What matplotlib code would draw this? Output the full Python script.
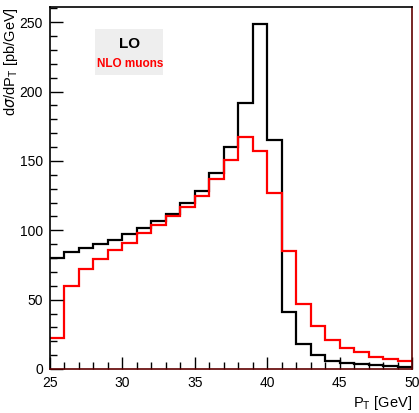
import numpy as np
import matplotlib
matplotlib.use("Agg")
import matplotlib.pyplot as plt
from matplotlib.ticker import MultipleLocator

plt.rcParams['font.family'] = ['Liberation Sans', 'DejaVu Sans']

# ビンの端 (GeV)
edges = np.arange(25, 51, 1)

# LO (黒)
lo = [80, 84, 87, 90, 93, 97, 102, 107, 112, 120, 128, 141, 160, 192, 249,
      165, 41, 18, 10, 6, 4.3, 3.3, 2.6, 2.1, 1.7]
# NLO muons (赤)
nlo = [22, 60, 72, 79, 86, 91, 98, 104, 110, 117, 125, 137, 151, 167, 157,
       127, 85, 47, 31, 21, 15.5, 12, 9, 7.2, 5.8]

W, H = 419, 413
fig = plt.figure(figsize=(W / 100, H / 100), dpi=100)
ax = fig.add_axes([50 / W, 1 - 369 / H, 362 / W, 362 / H])

ax.stairs(lo, edges, color='black', linewidth=1.6, baseline=None)
ax.stairs(nlo, edges, color='red', linewidth=1.6, baseline=None)

ax.set_xlim(25, 50)
ax.set_ylim(0, 261)

ax.xaxis.set_major_locator(MultipleLocator(5))
ax.xaxis.set_minor_locator(MultipleLocator(1))
ax.yaxis.set_major_locator(MultipleLocator(50))
ax.yaxis.set_minor_locator(MultipleLocator(10))
ax.tick_params(which='both', direction='in', top=False, right=False, labelsize=10)
ax.tick_params(which='major', length=9, width=1)
ax.tick_params(which='minor', length=5, width=1)
ax.tick_params(axis='x', pad=5)
ax.tick_params(axis='y', pad=5)

for s in ax.spines.values():
    s.set_linewidth(1.2)
ax.spines['right'].set_color('#600000')
ax.spines['bottom'].set_color('#600000')

ax.set_xlabel(r'P$_\mathregular{T}$ [GeV]', fontsize=10.5)
ax.xaxis.set_label_coords(1.0, -0.07)
ax.xaxis.label.set_ha('right')
ax.xaxis.label.set_va('top')
ax.set_ylabel(r'd$\sigma$/dP$_\mathregular{T}$ [pb/GeV]', fontsize=10.5)
ax.yaxis.set_label_coords((11 - 50) / 362, 1.0)
ax.yaxis.label.set_ha('right')
ax.yaxis.label.set_va('center')

# 凡例
fig.patches.append(plt.Rectangle((95 / W, 1 - 75 / H), 68 / W, 46 / H,
                                 transform=fig.transFigure, facecolor='#eeeeee',
                                 edgecolor='none', zorder=0.5))
fig.text(130 / W, 1 - 44 / H, 'LO', ha='center', va='center',
         fontsize=11, fontweight='bold', color='black', zorder=3)
fig.text(130 / W, 1 - 64 / H, 'NLO muons', ha='center', va='center',
         fontsize=8.5, fontweight='bold', color='red', zorder=3)
ax.set_zorder(1)
ax.patch.set_alpha(0)

fig.savefig('out.png', dpi=100)
